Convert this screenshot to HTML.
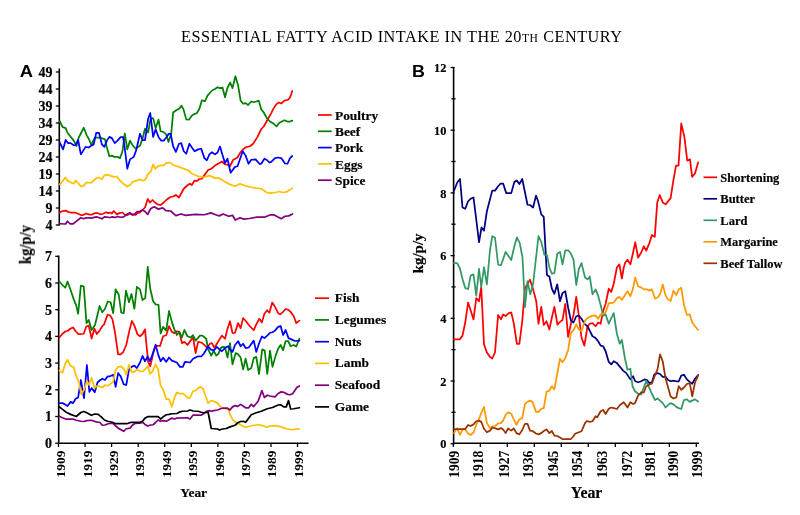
<!DOCTYPE html>
<html><head><meta charset="utf-8"><title>Essential fatty acid intake in the 20th century</title>
<style>
html,body{margin:0;padding:0;background:#fff;}
body{width:800px;height:515px;overflow:hidden;font-family:"Liberation Serif",serif;}
svg{display:block;}

</style></head><body>
<svg width="800" height="515" viewBox="0 0 800 515">
<defs><filter id="soft" x="0" y="0" width="800" height="515" filterUnits="userSpaceOnUse"><feGaussianBlur stdDeviation="0.38"/></filter></defs>
<rect width="800" height="515" fill="#ffffff"/>
<g filter="url(#soft)">
<text x="181" y="42.0" font-family="Liberation Serif" font-size="16.2" fill="#000" textLength="441" lengthAdjust="spacing" id="title">ESSENTIAL FATTY ACID INTAKE IN THE 20<tspan font-size="11.6">TH</tspan> CENTURY</text>
<text transform="translate(19.8,76.7) scale(1.1,1)" font-family="Liberation Sans" font-weight="bold" font-size="16.7" fill="#000">A</text>
<text transform="translate(411.9,76.6) scale(1.04,1)" font-family="Liberation Sans" font-weight="bold" font-size="17.2" fill="#000">B</text>
<path d="M59.3,68.5 V225.5" stroke="#000000" stroke-width="1.6" fill="none"/>
<path d="M55.8,72 H59.3" stroke="#000000" stroke-width="1.3"/>
<text x="52.5" y="77.1" text-anchor="end" font-family="Liberation Serif" font-weight="bold" stroke="#000" stroke-width="0.18" font-size="14" fill="#000">49</text>
<path d="M55.8,89 H59.3" stroke="#000000" stroke-width="1.3"/>
<text x="52.5" y="94.1" text-anchor="end" font-family="Liberation Serif" font-weight="bold" stroke="#000" stroke-width="0.18" font-size="14" fill="#000">44</text>
<path d="M55.8,106 H59.3" stroke="#000000" stroke-width="1.3"/>
<text x="52.5" y="111.1" text-anchor="end" font-family="Liberation Serif" font-weight="bold" stroke="#000" stroke-width="0.18" font-size="14" fill="#000">39</text>
<path d="M55.8,123 H59.3" stroke="#000000" stroke-width="1.3"/>
<text x="52.5" y="128.1" text-anchor="end" font-family="Liberation Serif" font-weight="bold" stroke="#000" stroke-width="0.18" font-size="14" fill="#000">34</text>
<path d="M55.8,140 H59.3" stroke="#000000" stroke-width="1.3"/>
<text x="52.5" y="145.1" text-anchor="end" font-family="Liberation Serif" font-weight="bold" stroke="#000" stroke-width="0.18" font-size="14" fill="#000">29</text>
<path d="M55.8,157 H59.3" stroke="#000000" stroke-width="1.3"/>
<text x="52.5" y="162.1" text-anchor="end" font-family="Liberation Serif" font-weight="bold" stroke="#000" stroke-width="0.18" font-size="14" fill="#000">24</text>
<path d="M55.8,174 H59.3" stroke="#000000" stroke-width="1.3"/>
<text x="52.5" y="179.1" text-anchor="end" font-family="Liberation Serif" font-weight="bold" stroke="#000" stroke-width="0.18" font-size="14" fill="#000">19</text>
<path d="M55.8,191 H59.3" stroke="#000000" stroke-width="1.3"/>
<text x="52.5" y="196.1" text-anchor="end" font-family="Liberation Serif" font-weight="bold" stroke="#000" stroke-width="0.18" font-size="14" fill="#000">14</text>
<path d="M55.8,208 H59.3" stroke="#000000" stroke-width="1.3"/>
<text x="52.5" y="213.1" text-anchor="end" font-family="Liberation Serif" font-weight="bold" stroke="#000" stroke-width="0.18" font-size="14" fill="#000">9</text>
<path d="M55.8,225 H59.3" stroke="#000000" stroke-width="1.3"/>
<text x="52.5" y="230.1" text-anchor="end" font-family="Liberation Serif" font-weight="bold" stroke="#000" stroke-width="0.18" font-size="14" fill="#000">4</text>
<path d="M59.75,212.50 L62.50,211.00 L65.62,210.62 L68.12,211.88 L70.62,212.50 L75.00,212.50 L78.12,213.75 L80.88,215.00 L83.12,215.00 L86.25,213.50 L88.75,214.38 L91.25,214.75 L95.00,213.12 L98.12,213.12 L100.00,214.38 L103.12,213.75 L106.25,212.25 L108.12,213.12 L110.00,212.50 L111.88,213.50 L113.75,211.00 L116.88,214.38 L119.38,213.12 L122.50,212.50 L125.00,215.00 L127.50,215.00 L130.00,213.75 L132.50,214.38 L135.62,215.00 L137.50,213.12 L140.00,212.50 L142.50,210.00 L145.00,207.50 L147.75,199.00 L150.00,202.50 L152.50,200.00 L155.00,202.50 L157.50,204.38 L160.62,205.00 L163.12,203.12 L166.25,200.00 L170.00,197.25 L173.12,196.50 L175.88,195.00 L179.00,197.50 L183.75,188.75 L187.50,185.25 L190.00,183.75 L191.88,185.00 L194.38,180.62 L196.88,181.00 L199.38,179.00 L201.88,178.75 L205.00,174.38 L208.12,170.00 L211.25,168.75 L215.00,165.62 L218.12,163.75 L221.88,161.50 L225.00,164.38 L227.50,164.75 L230.00,166.00 L233.12,160.00 L237.50,157.50 L240.00,153.12 L243.12,149.38 L245.62,147.25 L250.00,146.25 L253.12,143.75 L257.50,136.88 L261.25,129.00 L263.75,126.50 L268.12,118.75 L271.25,113.12 L273.75,108.12 L276.25,104.38 L278.75,102.50 L281.25,103.50 L284.38,100.62 L288.12,99.75 L290.00,97.50 L292.25,91.00" stroke="#ff0000" stroke-width="1.75" fill="none" stroke-linejoin="round" stroke-linecap="round"/>
<path d="M59.75,121.25 L62.50,126.88 L65.62,128.12 L67.50,132.75 L71.25,137.50 L73.75,140.62 L76.50,146.00 L78.75,137.50 L83.75,127.75 L86.88,135.62 L88.75,138.75 L91.25,144.75 L95.00,137.50 L100.00,137.50 L105.00,139.38 L106.88,147.50 L109.38,156.25 L111.88,155.62 L114.38,156.88 L117.50,156.88 L120.00,158.12 L122.50,151.25 L124.75,133.50 L127.25,149.38 L130.00,140.62 L132.50,145.00 L135.62,148.75 L140.00,145.62 L142.50,138.75 L145.00,128.75 L148.12,132.50 L150.62,118.75 L153.12,118.12 L155.62,128.12 L158.50,119.75 L160.62,131.25 L163.12,131.88 L166.25,134.38 L168.50,141.88 L171.25,133.50 L173.12,112.50 L176.25,110.25 L179.38,108.50 L181.50,105.62 L183.50,109.38 L186.25,119.38 L189.00,119.75 L191.88,115.62 L194.38,114.00 L196.88,113.12 L199.38,108.75 L201.88,100.25 L205.00,101.25 L207.50,95.62 L210.00,92.75 L212.50,90.25 L215.00,89.00 L217.50,87.25 L220.00,88.12 L222.50,87.50 L225.00,97.25 L227.50,87.75 L230.25,82.50 L232.50,88.12 L235.38,76.25 L238.12,85.62 L240.62,100.62 L243.12,103.75 L245.62,103.12 L248.12,105.00 L251.25,101.50 L253.75,102.25 L256.25,101.50 L258.75,100.62 L261.25,109.38 L263.75,112.50 L267.25,118.75 L270.00,121.50 L273.75,123.75 L276.50,126.50 L279.38,122.75 L281.88,121.50 L284.38,120.25 L287.50,121.50 L290.00,121.50 L292.25,120.62" stroke="#008000" stroke-width="1.75" fill="none" stroke-linejoin="round" stroke-linecap="round"/>
<path d="M59.75,142.50 L63.12,149.38 L65.62,140.00 L68.12,143.12 L70.62,143.12 L73.75,145.25 L75.62,145.00 L78.12,140.00 L80.88,154.38 L85.62,146.88 L88.75,147.50 L91.25,145.62 L93.75,144.38 L96.25,132.75 L99.00,132.75 L101.88,144.38 L104.38,146.88 L106.88,140.62 L109.38,136.88 L111.88,138.12 L114.75,143.12 L117.50,140.62 L120.62,137.12 L123.12,137.12 L125.00,150.00 L127.25,168.75 L130.00,159.38 L133.75,156.88 L136.25,150.00 L140.00,133.75 L142.50,140.00 L145.00,140.00 L148.12,118.75 L150.25,113.12 L153.12,136.88 L155.62,129.38 L158.75,137.50 L161.25,140.62 L163.75,140.62 L166.25,137.50 L168.75,133.75 L170.62,133.75 L173.12,146.25 L175.88,151.88 L179.00,143.75 L181.25,143.12 L183.75,151.25 L186.25,153.75 L189.38,143.75 L191.88,147.50 L194.62,151.25 L198.12,149.38 L201.25,148.75 L204.38,158.12 L206.88,160.25 L209.38,154.38 L211.88,152.25 L215.00,154.38 L217.50,152.50 L220.00,146.50 L222.50,155.00 L225.00,163.12 L227.50,158.75 L230.62,172.75 L235.00,166.88 L237.50,166.25 L242.75,151.25 L245.62,155.62 L248.50,163.75 L251.25,159.75 L255.62,159.38 L259.38,163.75 L261.25,163.75 L264.38,158.75 L266.88,160.00 L269.38,162.50 L271.25,161.88 L275.00,158.12 L278.12,157.50 L281.25,158.12 L285.00,163.50 L287.50,163.75 L290.00,158.12 L292.25,156.00" stroke="#0000ff" stroke-width="1.75" fill="none" stroke-linejoin="round" stroke-linecap="round"/>
<path d="M59.75,184.38 L62.50,181.25 L65.25,177.50 L67.50,180.62 L70.62,182.25 L73.75,183.75 L75.62,180.62 L78.12,183.12 L80.88,186.50 L83.75,185.62 L86.25,182.50 L91.25,182.75 L96.25,178.12 L98.75,177.50 L101.88,179.38 L104.38,175.25 L106.88,174.62 L110.00,175.62 L114.38,176.88 L116.88,176.50 L120.00,180.62 L123.75,184.00 L127.25,186.50 L130.00,185.00 L133.12,181.50 L136.88,180.62 L139.38,179.38 L142.50,180.62 L145.00,180.00 L148.12,173.75 L150.62,171.88 L153.12,164.38 L155.25,168.75 L158.12,166.25 L160.62,165.25 L163.12,165.62 L166.25,163.12 L170.62,162.50 L173.12,165.00 L178.75,166.88 L183.75,168.75 L188.75,170.62 L191.88,173.75 L195.00,175.00 L198.12,176.25 L203.75,177.25 L209.38,175.62 L212.50,176.88 L215.00,178.12 L218.75,178.12 L221.25,179.38 L225.00,181.88 L230.00,184.38 L235.00,186.25 L240.00,183.75 L245.00,185.62 L251.25,187.25 L256.25,188.12 L261.25,188.75 L266.88,192.50 L270.00,193.12 L275.00,192.50 L279.38,191.50 L282.50,192.50 L286.25,191.88 L288.75,190.62 L292.25,188.12" stroke="#ffc000" stroke-width="1.75" fill="none" stroke-linejoin="round" stroke-linecap="round"/>
<path d="M59.75,223.75 L65.62,224.00 L67.50,221.25 L70.00,223.75 L73.12,223.75 L75.62,221.88 L80.88,217.75 L83.75,218.75 L86.25,217.75 L91.25,218.12 L96.25,216.88 L98.75,217.50 L101.88,218.75 L104.38,216.88 L110.00,217.50 L112.50,216.88 L115.00,217.50 L117.50,216.50 L120.00,217.25 L123.75,216.88 L126.88,214.38 L130.00,212.75 L132.50,215.00 L135.00,213.75 L137.50,211.50 L140.00,211.25 L142.50,210.00 L145.00,211.50 L147.75,214.38 L150.62,208.75 L153.12,207.25 L154.69,206.88 L158.44,209.13 L162.75,207.81 L165.94,210.63 L170.63,211.00 L175.88,215.69 L180.94,214.00 L185.63,215.31 L195.00,214.38 L204.38,214.75 L210.94,212.88 L215.63,214.75 L219.38,215.88 L223.13,214.00 L228.75,216.25 L232.50,215.31 L235.31,220.00 L240.00,217.75 L243.75,219.06 L249.38,218.50 L256.88,217.19 L264.38,217.19 L270.00,214.94 L273.75,214.75 L281.25,218.69 L285.00,216.25 L288.75,215.88 L292.50,214.00" stroke="#800080" stroke-width="1.75" fill="none" stroke-linejoin="round" stroke-linecap="round"/>
<path d="M318,115.0 H331.7" stroke="#ff0000" stroke-width="1.7"/>
<text x="335" y="119.7" font-family="Liberation Serif" font-weight="bold" stroke="#000" stroke-width="0.18" font-size="13.4" fill="#000">Poultry</text>
<path d="M318,131.3 H331.7" stroke="#008000" stroke-width="1.7"/>
<text x="335" y="136.0" font-family="Liberation Serif" font-weight="bold" stroke="#000" stroke-width="0.18" font-size="13.4" fill="#000">Beef</text>
<path d="M318,147.6 H331.7" stroke="#0000ff" stroke-width="1.7"/>
<text x="335" y="152.3" font-family="Liberation Serif" font-weight="bold" stroke="#000" stroke-width="0.18" font-size="13.4" fill="#000">Pork</text>
<path d="M318,163.9 H331.7" stroke="#ffc000" stroke-width="1.7"/>
<text x="335" y="168.6" font-family="Liberation Serif" font-weight="bold" stroke="#000" stroke-width="0.18" font-size="13.4" fill="#000">Eggs</text>
<path d="M318,180.2 H331.7" stroke="#800080" stroke-width="1.7"/>
<text x="335" y="184.9" font-family="Liberation Serif" font-weight="bold" stroke="#000" stroke-width="0.18" font-size="13.4" fill="#000">Spice</text>
<text transform="translate(30.8,244.6) rotate(-90) scale(0.9,1)" text-anchor="middle" font-family="Liberation Serif" font-weight="bold" stroke="#000" stroke-width="0.18" font-size="16.2" fill="#000">kg/p/y</text>
<path d="M58.7,255.5 V443.2" stroke="#000000" stroke-width="1.6" fill="none"/>
<path d="M58.0,443.2 H308.5" stroke="#000000" stroke-width="1.6" fill="none"/>
<path d="M55.2,443.2 H58.7" stroke="#000000" stroke-width="1.3"/>
<text x="52" y="448.1" text-anchor="end" font-family="Liberation Serif" font-weight="bold" stroke="#000" stroke-width="0.18" font-size="14" fill="#000">0</text>
<path d="M55.2,416.5 H58.7" stroke="#000000" stroke-width="1.3"/>
<text x="52" y="421.4" text-anchor="end" font-family="Liberation Serif" font-weight="bold" stroke="#000" stroke-width="0.18" font-size="14" fill="#000">1</text>
<path d="M55.2,389.8 H58.7" stroke="#000000" stroke-width="1.3"/>
<text x="52" y="394.7" text-anchor="end" font-family="Liberation Serif" font-weight="bold" stroke="#000" stroke-width="0.18" font-size="14" fill="#000">2</text>
<path d="M55.2,363.1 H58.7" stroke="#000000" stroke-width="1.3"/>
<text x="52" y="368.0" text-anchor="end" font-family="Liberation Serif" font-weight="bold" stroke="#000" stroke-width="0.18" font-size="14" fill="#000">3</text>
<path d="M55.2,336.4 H58.7" stroke="#000000" stroke-width="1.3"/>
<text x="52" y="341.3" text-anchor="end" font-family="Liberation Serif" font-weight="bold" stroke="#000" stroke-width="0.18" font-size="14" fill="#000">4</text>
<path d="M55.2,309.7 H58.7" stroke="#000000" stroke-width="1.3"/>
<text x="52" y="314.6" text-anchor="end" font-family="Liberation Serif" font-weight="bold" stroke="#000" stroke-width="0.18" font-size="14" fill="#000">5</text>
<path d="M55.2,283.0 H58.7" stroke="#000000" stroke-width="1.3"/>
<text x="52" y="287.9" text-anchor="end" font-family="Liberation Serif" font-weight="bold" stroke="#000" stroke-width="0.18" font-size="14" fill="#000">6</text>
<path d="M55.2,256.3 H58.7" stroke="#000000" stroke-width="1.3"/>
<text x="52" y="261.2" text-anchor="end" font-family="Liberation Serif" font-weight="bold" stroke="#000" stroke-width="0.18" font-size="14" fill="#000">7</text>
<path d="M58.5,443.2 V447" stroke="#000000" stroke-width="1.3"/>
<text transform="translate(65.3,477.6) rotate(-90)" font-family="Liberation Serif" font-weight="bold" font-size="13.5" fill="#000">1909</text>
<path d="M85.1,443.2 V447" stroke="#000000" stroke-width="1.3"/>
<text transform="translate(91.7,477.6) rotate(-90)" font-family="Liberation Serif" font-weight="bold" font-size="13.5" fill="#000">1919</text>
<path d="M111.6,443.2 V447" stroke="#000000" stroke-width="1.3"/>
<text transform="translate(118.1,477.6) rotate(-90)" font-family="Liberation Serif" font-weight="bold" font-size="13.5" fill="#000">1929</text>
<path d="M138.2,443.2 V447" stroke="#000000" stroke-width="1.3"/>
<text transform="translate(144.4,477.6) rotate(-90)" font-family="Liberation Serif" font-weight="bold" font-size="13.5" fill="#000">1939</text>
<path d="M164.7,443.2 V447" stroke="#000000" stroke-width="1.3"/>
<text transform="translate(170.8,477.6) rotate(-90)" font-family="Liberation Serif" font-weight="bold" font-size="13.5" fill="#000">1949</text>
<path d="M191.3,443.2 V447" stroke="#000000" stroke-width="1.3"/>
<text transform="translate(197.2,477.6) rotate(-90)" font-family="Liberation Serif" font-weight="bold" font-size="13.5" fill="#000">1959</text>
<path d="M217.9,443.2 V447" stroke="#000000" stroke-width="1.3"/>
<text transform="translate(223.6,477.6) rotate(-90)" font-family="Liberation Serif" font-weight="bold" font-size="13.5" fill="#000">1969</text>
<path d="M244.4,443.2 V447" stroke="#000000" stroke-width="1.3"/>
<text transform="translate(250.0,477.6) rotate(-90)" font-family="Liberation Serif" font-weight="bold" font-size="13.5" fill="#000">1979</text>
<path d="M271.0,443.2 V447" stroke="#000000" stroke-width="1.3"/>
<text transform="translate(276.3,477.6) rotate(-90)" font-family="Liberation Serif" font-weight="bold" font-size="13.5" fill="#000">1989</text>
<path d="M297.5,443.2 V447" stroke="#000000" stroke-width="1.3"/>
<text transform="translate(302.7,477.6) rotate(-90)" font-family="Liberation Serif" font-weight="bold" font-size="13.5" fill="#000">1999</text>
<path d="M59.38,337.50 L62.50,333.75 L65.62,331.25 L67.50,331.00 L70.62,328.50 L73.12,327.50 L75.62,331.25 L78.12,334.00 L80.88,334.00 L83.75,333.75 L86.25,326.50 L88.75,325.62 L91.62,338.50 L94.38,328.75 L96.88,334.00 L99.62,330.62 L102.25,326.25 L104.12,324.38 L107.50,314.75 L110.00,315.25 L112.50,319.38 L115.00,332.50 L118.12,354.38 L120.62,354.38 L123.12,352.25 L126.25,345.00 L129.38,330.62 L131.88,321.00 L134.38,325.62 L137.50,334.38 L140.00,336.25 L142.50,334.00 L145.00,329.38 L148.12,361.88 L150.25,366.25 L153.12,353.75 L155.62,345.62 L160.00,346.00 L163.12,336.25 L166.25,335.25 L169.00,326.25 L171.88,331.88 L174.38,333.12 L176.88,331.25 L179.38,331.88 L181.88,343.12 L184.38,341.88 L187.50,345.00 L190.62,340.62 L193.12,337.50 L195.62,353.12 L198.12,341.88 L201.25,342.50 L203.75,344.38 L206.88,347.50 L210.00,343.75 L211.88,343.12 L214.38,347.75 L216.88,343.75 L221.88,335.62 L225.00,338.75 L227.50,328.75 L230.00,321.25 L232.50,333.12 L235.00,332.75 L238.12,323.12 L240.62,328.12 L243.12,318.12 L245.88,321.00 L248.75,325.00 L253.75,330.25 L256.25,324.38 L259.38,318.75 L261.88,322.50 L264.38,313.75 L267.25,310.25 L269.38,312.75 L272.25,302.50 L275.00,306.88 L278.12,313.12 L280.00,314.38 L282.50,312.50 L285.62,309.00 L288.12,309.75 L290.62,311.88 L293.75,316.25 L296.25,323.12 L299.38,320.62" stroke="#ff0000" stroke-width="1.75" fill="none" stroke-linejoin="round" stroke-linecap="round"/>
<path d="M59.38,281.50 L62.50,285.00 L65.25,287.75 L67.50,281.50 L70.62,290.00 L73.75,299.38 L76.25,305.62 L78.12,313.75 L80.88,285.62 L83.75,286.50 L86.50,323.12 L88.75,320.00 L91.62,330.00 L95.00,325.00 L99.62,306.00 L102.25,312.25 L105.00,308.75 L107.75,301.50 L110.62,302.25 L113.12,313.12 L115.62,289.38 L118.75,294.75 L121.25,312.75 L123.75,313.12 L126.00,290.62 L129.00,302.25 L131.50,294.00 L134.38,308.75 L136.88,286.88 L140.00,289.38 L142.50,300.00 L145.25,298.12 L147.75,266.88 L150.25,288.75 L153.12,301.25 L155.62,304.38 L158.50,304.75 L160.62,333.50 L163.12,326.88 L166.25,330.62 L169.00,311.00 L171.88,321.88 L174.38,329.38 L176.88,335.00 L179.38,331.88 L181.88,337.50 L184.38,330.00 L187.50,336.25 L190.62,337.50 L193.12,335.25 L195.62,340.62 L200.00,335.62 L202.50,335.62 L206.25,338.75 L208.12,349.38 L211.25,355.62 L213.75,351.00 L216.25,355.62 L218.50,353.75 L220.62,348.12 L223.12,346.88 L225.00,347.25 L227.50,357.50 L230.00,343.12 L232.50,364.38 L235.62,353.12 L238.12,354.38 L240.62,357.50 L243.12,369.38 L245.62,358.75 L248.12,370.00 L251.25,368.12 L253.75,358.12 L256.25,356.88 L259.00,374.00 L262.25,349.38 L264.75,350.62 L267.25,374.00 L270.00,350.62 L272.50,366.88 L275.62,355.62 L278.12,348.75 L280.62,345.00 L283.12,350.25 L285.62,341.00 L288.12,341.00 L290.62,346.25 L293.75,345.00 L296.25,346.50 L299.38,338.75" stroke="#008000" stroke-width="1.75" fill="none" stroke-linejoin="round" stroke-linecap="round"/>
<path d="M59.38,403.12 L62.50,403.12 L65.00,404.38 L67.50,406.00 L70.62,401.88 L73.12,403.12 L75.62,398.75 L78.12,397.50 L80.88,380.00 L84.00,398.12 L86.88,365.00 L89.38,391.88 L91.62,388.12 L94.75,392.25 L97.50,382.50 L100.00,380.25 L102.25,378.75 L105.00,380.00 L107.75,376.25 L110.00,376.25 L113.12,374.75 L115.62,386.88 L118.12,373.12 L120.62,376.25 L123.75,384.38 L126.25,385.00 L129.00,369.38 L131.50,366.88 L134.38,365.62 L136.88,368.12 L140.00,362.50 L142.50,356.00 L145.00,361.25 L147.75,356.50 L150.00,361.25 L152.50,354.38 L155.62,344.75 L158.12,354.38 L160.62,361.25 L163.12,357.75 L166.25,361.88 L169.00,357.50 L171.88,360.62 L176.88,362.50 L180.00,366.88 L182.75,366.88 L185.00,361.88 L190.00,362.50 L193.12,358.75 L195.62,357.50 L198.12,356.25 L201.25,356.50 L203.75,353.75 L208.12,346.25 L210.62,349.38 L213.75,350.62 L216.88,346.88 L219.38,349.38 L221.88,351.25 L225.00,348.12 L228.12,346.25 L230.00,349.38 L232.50,351.88 L235.00,345.00 L238.12,341.25 L240.62,346.25 L243.12,343.75 L245.62,348.12 L248.75,347.50 L253.75,340.62 L256.25,351.88 L259.38,342.50 L261.88,336.50 L264.38,338.12 L267.25,335.62 L270.00,332.75 L272.50,332.25 L275.00,330.62 L278.12,326.88 L280.62,326.00 L283.12,335.00 L285.62,330.00 L288.50,338.12 L291.25,339.38 L295.00,341.00 L299.38,340.62" stroke="#0000ff" stroke-width="1.75" fill="none" stroke-linejoin="round" stroke-linecap="round"/>
<path d="M59.38,370.62 L62.50,372.75 L65.25,363.75 L67.50,359.75 L70.62,366.00 L73.75,367.25 L76.25,376.25 L78.75,381.88 L81.25,394.38 L84.00,390.00 L86.88,381.25 L89.00,384.75 L91.62,377.75 L94.38,388.12 L97.50,385.62 L102.25,387.50 L105.00,385.25 L108.12,385.62 L113.12,381.88 L115.62,370.00 L118.12,366.88 L121.25,366.50 L123.75,368.75 L126.25,374.75 L129.00,364.75 L131.50,371.88 L134.38,371.88 L136.88,369.38 L140.00,371.25 L142.50,371.50 L145.00,369.38 L147.75,366.25 L150.00,373.75 L152.50,371.50 L155.62,364.38 L158.12,369.38 L160.62,385.62 L163.12,389.38 L166.25,399.00 L169.00,399.00 L171.88,406.88 L174.38,397.50 L176.88,392.50 L180.00,393.50 L182.75,393.50 L185.00,395.00 L187.50,397.75 L190.00,397.75 L193.12,391.00 L195.62,390.62 L198.12,388.12 L200.62,386.88 L203.12,388.75 L205.62,396.25 L208.12,403.12 L211.25,400.62 L213.75,401.25 L217.50,403.12 L221.25,407.50 L225.00,408.75 L228.12,409.38 L230.00,414.38 L232.50,419.38 L235.00,421.88 L237.50,423.12 L240.00,424.38 L243.12,426.50 L245.62,427.50 L248.75,426.50 L253.75,425.25 L258.75,424.75 L262.50,425.62 L267.25,427.25 L270.00,426.00 L275.00,425.62 L281.25,426.88 L286.25,428.75 L290.00,429.38 L293.12,429.75 L296.25,428.75 L299.38,429.00" stroke="#ffc000" stroke-width="1.75" fill="none" stroke-linejoin="round" stroke-linecap="round"/>
<path d="M59.38,416.25 L62.50,417.75 L65.62,419.00 L73.12,419.00 L76.25,420.25 L80.88,421.25 L83.75,421.50 L86.88,420.62 L91.25,420.25 L96.25,421.88 L100.00,422.50 L102.25,425.25 L105.00,425.00 L108.12,423.75 L112.50,423.12 L115.00,425.25 L118.12,428.12 L123.75,431.25 L126.25,428.75 L130.00,428.12 L132.50,425.00 L135.00,423.50 L140.00,423.12 L142.50,422.25 L145.00,424.38 L147.75,426.00 L150.62,425.00 L153.12,424.75 L155.62,422.50 L158.12,420.00 L160.62,421.25 L163.12,420.62 L166.25,421.25 L169.00,419.75 L171.88,418.12 L174.38,419.00 L176.88,418.12 L187.50,417.75 L190.00,419.00 L193.12,415.00 L198.12,415.00 L201.25,415.00 L203.75,413.75 L206.25,411.25 L209.38,410.62 L211.25,411.25 L213.75,410.62 L217.50,410.00 L221.25,408.50 L223.75,408.12 L227.50,408.12 L230.00,410.00 L232.50,406.88 L235.00,405.62 L237.50,406.50 L240.62,404.38 L243.12,406.00 L245.62,407.75 L248.75,407.75 L251.25,404.38 L253.75,406.50 L258.12,401.25 L261.88,390.62 L264.38,397.50 L267.25,395.25 L270.00,396.00 L275.00,396.88 L278.12,393.50 L281.25,391.88 L283.75,392.25 L287.50,394.38 L290.00,394.75 L292.50,393.75 L295.00,390.25 L296.88,387.50 L299.38,386.00" stroke="#800080" stroke-width="1.75" fill="none" stroke-linejoin="round" stroke-linecap="round"/>
<path d="M59.38,406.88 L62.50,409.38 L66.25,412.25 L70.62,414.38 L76.25,416.50 L80.88,412.50 L83.75,411.50 L86.88,412.75 L91.25,415.25 L95.00,414.00 L98.12,414.38 L101.25,416.88 L104.38,420.00 L107.50,421.25 L112.50,422.25 L115.00,423.50 L127.50,423.50 L131.25,422.25 L140.00,422.25 L142.50,421.25 L145.00,418.12 L148.12,416.50 L150.00,416.50 L158.12,416.50 L160.62,419.00 L163.12,416.88 L166.25,414.75 L169.00,414.38 L171.88,413.75 L176.88,413.50 L180.00,411.88 L182.75,411.25 L187.50,411.00 L190.00,410.00 L193.12,411.00 L198.12,411.25 L201.25,412.25 L203.75,412.75 L208.12,412.25 L211.25,428.50 L217.50,429.00 L219.38,430.00 L222.50,429.00 L226.25,428.50 L230.00,426.88 L235.00,425.25 L238.12,422.50 L240.62,421.50 L243.12,421.25 L245.62,422.25 L248.75,418.12 L251.25,414.75 L256.25,412.75 L261.25,411.25 L267.25,408.75 L272.50,407.50 L278.12,405.00 L280.62,404.75 L283.75,406.88 L286.25,406.88 L288.50,400.62 L290.62,409.00 L293.75,408.75 L299.38,407.75" stroke="#000000" stroke-width="1.75" fill="none" stroke-linejoin="round" stroke-linecap="round"/>
<path d="M315,298.2 H329" stroke="#ff0000" stroke-width="1.7"/>
<text x="334.8" y="302.1" font-family="Liberation Serif" font-weight="bold" stroke="#000" stroke-width="0.18" font-size="13.4" fill="#000">Fish</text>
<path d="M315,319.9 H329" stroke="#008000" stroke-width="1.7"/>
<text x="334.8" y="323.8" font-family="Liberation Serif" font-weight="bold" stroke="#000" stroke-width="0.18" font-size="13.4" fill="#000">Legumes</text>
<path d="M315,341.7 H329" stroke="#0000ff" stroke-width="1.7"/>
<text x="334.8" y="345.6" font-family="Liberation Serif" font-weight="bold" stroke="#000" stroke-width="0.18" font-size="13.4" fill="#000">Nuts</text>
<path d="M315,363.4 H329" stroke="#ffc000" stroke-width="1.7"/>
<text x="334.8" y="367.3" font-family="Liberation Serif" font-weight="bold" stroke="#000" stroke-width="0.18" font-size="13.4" fill="#000">Lamb</text>
<path d="M315,385.2 H329" stroke="#800080" stroke-width="1.7"/>
<text x="334.8" y="389.1" font-family="Liberation Serif" font-weight="bold" stroke="#000" stroke-width="0.18" font-size="13.4" fill="#000">Seafood</text>
<path d="M315,406.9 H329" stroke="#000000" stroke-width="1.7"/>
<text x="334.8" y="410.8" font-family="Liberation Serif" font-weight="bold" stroke="#000" stroke-width="0.18" font-size="13.4" fill="#000">Game</text>
<text x="193.7" y="497.2" text-anchor="middle" font-family="Liberation Serif" font-weight="bold" stroke="#000" stroke-width="0.18" font-size="13.4" fill="#000">Year</text>
<path d="M453.6,67 V443.2" stroke="#000000" stroke-width="1.6" fill="none"/>
<path d="M452.90000000000003,443.2 H699" stroke="#000000" stroke-width="1.6" fill="none"/>
<path d="M450.6,443.7 H454.6" stroke="#000000" stroke-width="1.3"/>
<text x="446.3" y="448.4" text-anchor="end" font-family="Liberation Serif" font-weight="bold" stroke="#000" stroke-width="0.18" font-size="12.3" fill="#000">0</text>
<path d="M451.40000000000003,412.3 H455.6" stroke="#000000" stroke-width="1.3"/>
<path d="M450.6,381.0 H454.6" stroke="#000000" stroke-width="1.3"/>
<text x="446.3" y="385.7" text-anchor="end" font-family="Liberation Serif" font-weight="bold" stroke="#000" stroke-width="0.18" font-size="12.3" fill="#000">2</text>
<path d="M451.40000000000003,349.6 H455.6" stroke="#000000" stroke-width="1.3"/>
<path d="M450.6,318.3 H454.6" stroke="#000000" stroke-width="1.3"/>
<text x="446.3" y="323.0" text-anchor="end" font-family="Liberation Serif" font-weight="bold" stroke="#000" stroke-width="0.18" font-size="12.3" fill="#000">4</text>
<path d="M451.40000000000003,286.9 H455.6" stroke="#000000" stroke-width="1.3"/>
<path d="M450.6,255.6 H454.6" stroke="#000000" stroke-width="1.3"/>
<text x="446.3" y="260.3" text-anchor="end" font-family="Liberation Serif" font-weight="bold" stroke="#000" stroke-width="0.18" font-size="12.3" fill="#000">6</text>
<path d="M451.40000000000003,224.2 H455.6" stroke="#000000" stroke-width="1.3"/>
<path d="M450.6,192.9 H454.6" stroke="#000000" stroke-width="1.3"/>
<text x="446.3" y="197.6" text-anchor="end" font-family="Liberation Serif" font-weight="bold" stroke="#000" stroke-width="0.18" font-size="12.3" fill="#000">8</text>
<path d="M451.40000000000003,161.5 H455.6" stroke="#000000" stroke-width="1.3"/>
<path d="M450.6,130.2 H454.6" stroke="#000000" stroke-width="1.3"/>
<text x="446.3" y="134.9" text-anchor="end" font-family="Liberation Serif" font-weight="bold" stroke="#000" stroke-width="0.18" font-size="12.3" fill="#000">10</text>
<path d="M451.40000000000003,98.8 H455.6" stroke="#000000" stroke-width="1.3"/>
<path d="M450.6,67.5 H454.6" stroke="#000000" stroke-width="1.3"/>
<text x="446.3" y="72.2" text-anchor="end" font-family="Liberation Serif" font-weight="bold" stroke="#000" stroke-width="0.18" font-size="12.3" fill="#000">12</text>
<path d="M453.3,443.2 V447" stroke="#000000" stroke-width="1.3"/>
<path d="M480.3,443.2 V447" stroke="#000000" stroke-width="1.3"/>
<path d="M507.3,443.2 V447" stroke="#000000" stroke-width="1.3"/>
<path d="M534.3,443.2 V447" stroke="#000000" stroke-width="1.3"/>
<path d="M561.3,443.2 V447" stroke="#000000" stroke-width="1.3"/>
<path d="M588.3,443.2 V447" stroke="#000000" stroke-width="1.3"/>
<path d="M615.3,443.2 V447" stroke="#000000" stroke-width="1.3"/>
<path d="M642.3,443.2 V447" stroke="#000000" stroke-width="1.3"/>
<path d="M669.3,443.2 V447" stroke="#000000" stroke-width="1.3"/>
<path d="M696.3,443.2 V447" stroke="#000000" stroke-width="1.3"/>
<text transform="translate(459.2,477.8) rotate(-90)" font-family="Liberation Serif" font-weight="bold" font-size="13.6" fill="#000">1909</text>
<text transform="translate(483.0,477.8) rotate(-90)" font-family="Liberation Serif" font-weight="bold" font-size="13.6" fill="#000">1918</text>
<text transform="translate(509.2,477.8) rotate(-90)" font-family="Liberation Serif" font-weight="bold" font-size="13.6" fill="#000">1927</text>
<text transform="translate(532.7,477.8) rotate(-90)" font-family="Liberation Serif" font-weight="bold" font-size="13.6" fill="#000">1936</text>
<text transform="translate(558.1,477.8) rotate(-90)" font-family="Liberation Serif" font-weight="bold" font-size="13.6" fill="#000">1945</text>
<text transform="translate(581.9,477.8) rotate(-90)" font-family="Liberation Serif" font-weight="bold" font-size="13.6" fill="#000">1954</text>
<text transform="translate(606.5,477.8) rotate(-90)" font-family="Liberation Serif" font-weight="bold" font-size="13.6" fill="#000">1963</text>
<text transform="translate(631.9,477.8) rotate(-90)" font-family="Liberation Serif" font-weight="bold" font-size="13.6" fill="#000">1972</text>
<text transform="translate(654.6,477.8) rotate(-90)" font-family="Liberation Serif" font-weight="bold" font-size="13.6" fill="#000">1981</text>
<text transform="translate(678.4,477.8) rotate(-90)" font-family="Liberation Serif" font-weight="bold" font-size="13.6" fill="#000">1990</text>
<text transform="translate(702.4,477.8) rotate(-90)" font-family="Liberation Serif" font-weight="bold" font-size="13.6" fill="#000">1999</text>
<path d="M454.00,339.38 L459.75,339.38 L462.50,335.62 L465.25,322.50 L468.12,302.50 L473.50,319.38 L476.25,298.12 L479.00,301.25 L481.25,287.25 L484.00,344.38 L486.88,352.50 L490.00,356.88 L492.25,358.50 L495.00,352.50 L498.12,315.00 L501.00,319.38 L503.12,314.38 L505.62,316.00 L508.75,313.12 L511.25,312.50 L513.75,323.12 L516.88,343.75 L519.38,343.75 L522.25,321.25 L525.00,288.12 L527.50,283.75 L530.00,279.75 L533.12,289.38 L536.25,301.25 L538.50,323.75 L541.25,306.88 L543.75,325.00 L546.50,321.25 L549.38,329.38 L551.88,317.50 L554.38,306.88 L557.50,324.75 L560.00,321.88 L562.50,320.00 L565.25,304.00 L568.12,336.88 L570.88,323.75 L573.50,315.00 L576.25,296.88 L578.75,315.00 L581.50,337.50 L584.38,345.62 L587.50,326.25 L589.75,323.75 L592.50,323.12 L595.62,326.25 L598.12,322.50 L600.62,323.75 L603.12,311.00 L605.62,303.75 L608.75,288.75 L611.25,291.88 L613.75,283.75 L616.88,267.50 L619.38,264.38 L621.88,278.50 L623.75,267.50 L625.25,262.50 L627.50,259.75 L630.38,264.38 L633.12,252.50 L635.25,242.25 L638.12,257.50 L641.25,252.50 L643.75,246.25 L646.25,250.62 L649.38,243.12 L651.88,235.00 L654.75,236.88 L657.25,202.50 L659.75,195.00 L662.75,202.50 L665.62,204.38 L670.62,198.12 L673.12,181.88 L676.00,165.62 L678.50,165.62 L681.25,123.50 L684.38,136.88 L687.25,160.62 L690.00,159.38 L692.12,176.88 L695.00,173.50 L698.12,162.50" stroke="#ff0000" stroke-width="1.75" fill="none" stroke-linejoin="round" stroke-linecap="round"/>
<path d="M454.00,190.62 L457.25,182.50 L460.00,179.00 L462.50,207.50 L465.25,208.75 L468.12,201.25 L470.62,198.75 L473.50,197.50 L476.25,219.38 L479.00,242.25 L481.50,227.50 L484.00,230.62 L486.88,211.25 L492.25,190.62 L495.00,190.62 L498.12,186.25 L500.62,183.50 L503.12,183.50 L506.25,193.12 L511.25,193.12 L514.38,181.88 L516.88,180.62 L519.38,184.00 L522.25,179.00 L524.75,191.25 L527.50,204.75 L530.00,205.00 L533.12,207.50 L536.00,195.62 L538.12,201.25 L541.25,214.38 L543.75,216.88 L546.90,275.00 L549.40,276.50 L551.88,288.75 L554.38,293.75 L557.25,284.38 L560.00,301.25 L562.50,293.12 L565.25,291.25 L568.12,307.50 L570.88,320.62 L573.50,322.50 L576.25,316.25 L578.75,315.62 L581.50,318.75 L585.00,324.38 L587.50,326.25 L589.75,330.62 L592.50,336.25 L595.62,338.12 L598.12,341.25 L600.62,345.62 L603.12,346.25 L605.62,351.25 L608.75,361.88 L611.25,364.38 L613.75,361.25 L616.88,363.12 L620.00,366.88 L623.12,370.62 L626.25,373.12 L630.38,379.38 L633.12,376.25 L635.25,381.25 L638.12,382.25 L641.25,381.25 L644.38,379.38 L646.88,380.00 L649.38,383.12 L651.88,382.25 L654.38,374.38 L657.50,373.12 L660.00,374.00 L662.75,376.88 L665.62,376.88 L668.12,380.00 L670.62,381.25 L673.50,380.62 L676.25,381.25 L678.75,381.25 L681.25,375.62 L684.00,374.75 L686.88,379.38 L689.75,381.88 L692.25,383.75 L695.00,378.75 L698.12,375.00" stroke="#000080" stroke-width="1.75" fill="none" stroke-linejoin="round" stroke-linecap="round"/>
<path d="M454.00,263.12 L457.25,263.12 L460.00,268.75 L462.50,279.00 L465.25,288.12 L468.12,289.00 L470.62,275.62 L473.50,274.38 L476.25,295.62 L479.00,268.75 L481.25,286.88 L484.00,267.25 L486.88,284.38 L490.00,250.00 L492.25,236.25 L495.00,237.50 L498.12,264.75 L501.00,265.25 L505.62,251.88 L511.25,260.00 L514.38,246.25 L516.88,237.50 L519.75,243.12 L522.50,257.50 L525.00,307.25 L527.50,281.25 L530.25,294.38 L533.12,283.75 L538.50,236.00 L541.25,241.88 L544.38,254.75 L546.88,254.75 L549.38,267.50 L551.88,273.75 L554.38,273.12 L557.25,253.75 L560.00,251.88 L562.50,264.38 L565.25,250.25 L568.12,250.25 L570.62,253.12 L573.50,259.38 L576.25,285.00 L578.75,269.38 L581.50,263.12 L585.00,277.50 L587.50,279.38 L589.75,276.50 L592.50,294.38 L595.62,289.38 L598.12,295.62 L600.62,305.00 L603.12,315.62 L605.62,314.38 L608.75,323.75 L611.25,318.12 L613.75,313.12 L616.88,333.75 L619.75,343.75 L621.88,340.00 L625.00,358.75 L627.50,369.75 L630.38,368.75 L632.50,386.25 L635.00,391.25 L638.12,393.75 L641.25,394.38 L643.75,387.50 L646.25,381.00 L649.38,388.12 L651.88,393.75 L655.00,400.00 L657.50,398.50 L660.00,400.62 L662.75,403.12 L665.62,407.50 L668.12,405.00 L670.62,403.12 L673.50,404.38 L676.25,406.88 L678.75,408.12 L681.25,409.00 L684.00,400.00 L686.88,399.38 L689.75,401.88 L692.25,400.62 L695.00,399.38 L698.12,401.50" stroke="#339966" stroke-width="1.75" fill="none" stroke-linejoin="round" stroke-linecap="round"/>
<path d="M454.00,433.12 L457.25,428.12 L460.00,435.00 L462.50,429.38 L465.25,429.38 L468.12,433.50 L470.62,435.00 L473.50,432.50 L476.25,425.00 L479.00,418.75 L481.25,413.12 L484.00,406.88 L486.88,423.12 L490.00,428.12 L492.25,426.25 L495.00,426.00 L498.12,423.50 L501.00,423.12 L503.12,420.62 L505.62,415.00 L508.12,412.25 L511.25,413.75 L513.75,419.38 L516.50,424.75 L519.38,419.38 L522.25,418.12 L525.00,404.00 L527.50,401.88 L530.00,400.62 L532.50,401.88 L536.00,411.88 L538.50,411.88 L541.25,408.75 L543.75,408.12 L546.50,391.88 L549.38,390.62 L551.88,386.25 L554.38,389.38 L557.25,373.75 L560.00,358.75 L562.50,362.25 L565.25,358.12 L568.12,350.00 L570.88,333.12 L573.50,330.00 L576.25,324.38 L578.75,329.38 L581.50,331.25 L585.00,320.62 L587.50,318.12 L589.75,316.88 L592.50,315.62 L595.62,315.62 L598.12,318.75 L600.62,314.38 L603.12,313.75 L605.62,312.50 L608.75,303.12 L611.25,303.12 L613.75,302.50 L616.88,298.12 L619.38,296.88 L621.88,300.00 L625.00,295.00 L627.50,291.25 L630.38,296.25 L633.12,288.12 L635.25,277.50 L638.12,286.25 L641.25,287.50 L644.38,289.38 L646.88,289.38 L649.38,290.62 L651.88,289.38 L655.00,298.50 L657.50,297.75 L660.00,294.38 L662.75,284.38 L665.62,295.62 L668.12,299.38 L670.62,301.00 L673.50,290.62 L676.25,295.00 L678.75,289.38 L681.25,287.75 L684.00,305.00 L686.88,315.00 L689.75,314.38 L692.25,322.50 L695.00,326.25 L698.12,329.75" stroke="#ff9900" stroke-width="1.75" fill="none" stroke-linejoin="round" stroke-linecap="round"/>
<path d="M454.00,429.00 L465.25,429.00 L468.12,425.00 L470.62,426.00 L473.50,424.38 L476.25,421.25 L479.00,420.62 L481.25,421.88 L484.00,428.75 L486.88,432.25 L490.00,430.62 L492.25,427.75 L495.00,428.12 L498.12,429.38 L501.00,428.12 L503.12,429.38 L505.62,433.12 L508.12,428.50 L511.25,430.62 L513.75,428.50 L516.50,433.12 L519.38,434.38 L522.25,430.00 L525.00,423.75 L527.50,423.75 L530.00,430.62 L532.50,431.00 L536.00,433.50 L538.50,434.38 L541.25,433.12 L543.75,431.00 L546.50,429.38 L549.38,433.12 L551.88,431.00 L554.38,435.62 L557.25,436.00 L562.50,439.00 L570.88,439.00 L573.50,436.25 L575.00,433.75 L581.50,431.25 L585.00,423.12 L586.88,421.00 L589.75,421.88 L592.50,421.25 L595.62,416.25 L597.25,417.25 L600.62,411.25 L603.12,410.00 L605.62,414.00 L608.75,408.75 L611.25,407.50 L613.75,408.12 L616.88,409.00 L620.00,405.00 L623.75,402.25 L627.50,407.50 L630.38,402.25 L633.12,404.00 L635.00,403.12 L638.12,395.62 L641.25,392.25 L643.75,392.50 L646.25,386.25 L649.38,384.38 L651.88,383.75 L654.38,376.88 L657.50,369.38 L660.00,354.38 L662.75,361.50 L665.62,378.75 L668.12,387.50 L670.62,396.50 L673.50,398.50 L676.25,397.50 L678.75,386.25 L681.25,389.75 L684.00,387.50 L686.88,384.00 L689.75,383.12 L692.25,396.25 L695.00,382.50 L698.12,375.62" stroke="#993300" stroke-width="1.75" fill="none" stroke-linejoin="round" stroke-linecap="round"/>
<path d="M703.5,177.3 H717" stroke="#ff0000" stroke-width="1.7"/>
<text x="720.3" y="181.5" font-family="Liberation Serif" font-weight="bold" stroke="#000" stroke-width="0.18" font-size="12.5" fill="#000">Shortening</text>
<path d="M703.5,198.8 H717" stroke="#000080" stroke-width="1.7"/>
<text x="720.3" y="203.0" font-family="Liberation Serif" font-weight="bold" stroke="#000" stroke-width="0.18" font-size="12.5" fill="#000">Butter</text>
<path d="M703.5,220.3 H717" stroke="#339966" stroke-width="1.7"/>
<text x="720.3" y="224.5" font-family="Liberation Serif" font-weight="bold" stroke="#000" stroke-width="0.18" font-size="12.5" fill="#000">Lard</text>
<path d="M703.5,241.8 H717" stroke="#ff9900" stroke-width="1.7"/>
<text x="720.3" y="246.0" font-family="Liberation Serif" font-weight="bold" stroke="#000" stroke-width="0.18" font-size="12.5" fill="#000">Margarine</text>
<path d="M703.5,263.3 H717" stroke="#993300" stroke-width="1.7"/>
<text x="720.3" y="267.5" font-family="Liberation Serif" font-weight="bold" stroke="#000" stroke-width="0.18" font-size="12.5" fill="#000">Beef Tallow</text>
<text transform="translate(423.4,253.4) rotate(-90)" text-anchor="middle" font-family="Liberation Serif" font-weight="bold" stroke="#000" stroke-width="0.18" font-size="14.9" fill="#000">kg/p/y</text>
<text x="586.6" y="498.4" text-anchor="middle" font-family="Liberation Serif" font-weight="bold" stroke="#000" stroke-width="0.18" font-size="15.8" fill="#000">Year</text>
</g>
</svg>
</body></html>
